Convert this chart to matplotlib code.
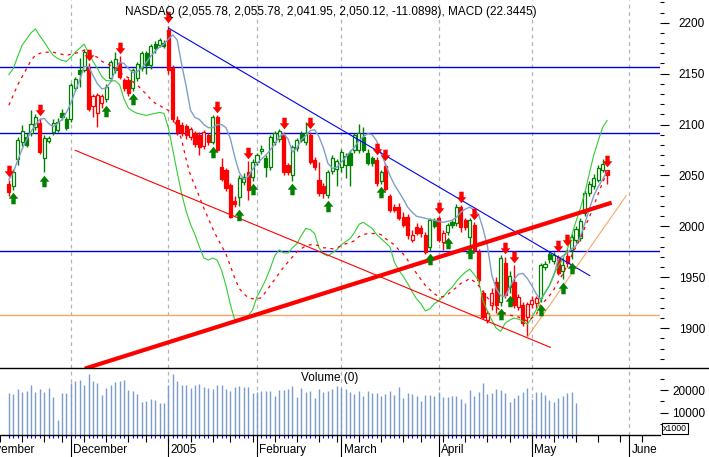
import numpy as np
import pandas as pd
import matplotlib
matplotlib.use("Agg")
import matplotlib.pyplot as plt
import matplotlib.transforms as mtransforms
from matplotlib.patches import Rectangle
from matplotlib.path import Path
from matplotlib.lines import Line2D

plt.rcParams['font.family'] = ['Liberation Sans', 'DejaVu Sans']

# trading calendar (NASDAQ holidays), first bar is 2004-11-10
holidays = ['2004-11-25', '2004-12-24', '2005-01-17', '2005-02-21', '2005-03-25']
days = pd.bdate_range('2004-11-01', '2005-06-30', freq='C', holidays=holidays)
first_day = '2004-11-10'

# daily bars, Nov 10 2004 .. May 25 2005
opens = [2042, 2040, 2066, 2083, 2088, 2092, 2098, 2102, 2067, 2084, 2093, 2095, 2111, 2105,
         2105, 2136, 2154, 2154, 2156, 2118, 2111, 2121, 2125, 2146, 2154, 2160, 2144, 2144, 2136, 2146, 2156, 2170, 2158, 2179, 2178, 2180,
         2193, 2156, 2104, 2100, 2099, 2088, 2092, 2090, 2079, 2090, 2083, 2107, 2058, 2055, 2041, 2025, 2029, 2044, 2053, 2049,
         2063, 2074, 2067, 2058, 2083, 2086, 2090, 2060, 2050, 2077, 2091, 2083, 2090, 2065, 2046, 2040, 2031, 2054, 2056,
         2058, 2060, 2072, 2075, 2075, 2088, 2072, 2067, 2065, 2045, 2059, 2030, 2019, 2019, 2009, 2009, 1987, 1999, 1998, 1992, 1980, 2006,
         2008, 1985, 1995, 2004, 2003, 2019, 2006, 1990, 2001, 1975, 1935, 1908, 1923, 1945, 1926, 1964, 1941, 1945, 1921, 1923, 1911,
         1924, 1925, 1930, 1960, 1973, 1966, 1970, 1956, 1971, 1977, 1987, 1989, 2013, 2033, 2040, 2046, 2055, 2055.78]
highs = [2046, 2056, 2088, 2100, 2092, 2114, 2110, 2106, 2090, 2089, 2105, 2106, 2115, 2107,
         2141, 2147, 2165, 2174, 2160, 2130, 2131, 2130, 2140, 2163, 2171, 2167, 2146, 2146, 2156, 2161, 2172, 2172, 2179, 2182, 2185, 2183,
         2197, 2158, 2108, 2103, 2101, 2098, 2094, 2093, 2095, 2092, 2109, 2109, 2067, 2057, 2043, 2030, 2050, 2052, 2064, 2066,
         2072, 2080, 2070, 2090, 2094, 2096, 2093, 2062, 2080, 2087, 2094, 2103, 2093, 2068, 2063, 2043, 2055, 2070, 2066,
         2076, 2072, 2075, 2092, 2101, 2098, 2076, 2069, 2068, 2055, 2062, 2032, 2022, 2023, 2014, 2012, 1996, 2003, 2001, 1995, 2008, 2008,
         2010, 1996, 2003, 2006, 2022, 2021, 2008, 2008, 2004, 1978, 1938, 1918, 1940, 1950, 1972, 1970, 1956, 1962, 1934, 1926, 1926,
         1932, 1932, 1964, 1966, 1976, 1975, 1972, 1970, 1978, 1993, 2000, 2008, 2036, 2045, 2051, 2060, 2066, 2055.78]
lows = [2030, 2036, 2060, 2079, 2078, 2089, 2095, 2071, 2053, 2082, 2090, 2093, 2104, 2095,
        2103, 2133, 2137, 2152, 2113, 2107, 2098, 2116, 2122, 2143, 2151, 2145, 2133, 2128, 2133, 2143, 2153, 2150, 2155, 2170, 2176, 2175,
        2150, 2103, 2090, 2089, 2086, 2085, 2078, 2070, 2076, 2080, 2081, 2073, 2045, 2035, 2008, 2019, 2020, 2041, 2026, 2045,
        2060, 2071, 2049, 2055, 2080, 2083, 2050, 2050, 2045, 2074, 2083, 2080, 2061, 2055, 2030, 2028, 2028, 2051, 2040,
        2053, 2048, 2040, 2072, 2072, 2073, 2060, 2059, 2040, 2042, 2035, 2014, 2014, 2006, 1999, 1988, 1985, 1992, 1990, 1973, 1976, 1998,
        1985, 1977, 1992, 1998, 2000, 1995, 1996, 1982, 1975, 1944, 1909, 1905, 1918, 1915, 1922, 1930, 1935, 1920, 1918, 1902, 1891,
        1920, 1920, 1926, 1957, 1964, 1963, 1952, 1948, 1960, 1968, 1984, 1986, 2010, 2030, 2037, 2044, 2053, 2041.95]
closes = [2034, 2053, 2085, 2094, 2080, 2101, 2107, 2073, 2087, 2087, 2102, 2103, 2107, 2097,
          2139, 2145, 2150, 2171, 2115, 2128, 2129, 2128, 2137, 2161, 2164, 2147, 2136, 2131, 2154, 2159, 2170, 2158, 2177, 2175, 2183, 2177,
          2154, 2105, 2093, 2092, 2090, 2096, 2081, 2078, 2093, 2083, 2107, 2075, 2047, 2038, 2009, 2022, 2048, 2049, 2036, 2063,
          2070, 2076, 2058, 2088, 2092, 2094, 2053, 2053, 2078, 2085, 2085, 2092, 2063, 2058, 2033, 2033, 2053, 2067, 2064,
          2073, 2069, 2060, 2090, 2092, 2075, 2062, 2062, 2043, 2053, 2037, 2016, 2016, 2008, 2001, 1992, 1992, 1994, 1994, 1975, 2006, 2000,
          1987, 1994, 2001, 2001, 2019, 1999, 1999, 2006, 1977, 1947, 1911, 1915, 1935, 1923, 1969, 1933, 1951, 1923, 1931, 1905, 1924,
          1928, 1930, 1962, 1963, 1968, 1972, 1954, 1962, 1964, 1990, 1997, 2005, 2033, 2042, 2048, 2057, 2061.21, 2050.12]

# volume (x1000 shares), Nov 10 2004 .. May 16 2005
volume = [18600, 18300, 20540, 19050, 19640, 22320, 19050, 20540, 19200, 20830, 16810, 6700, 18600, 18600,
          23360, 24100, 24550, 22320, 27230, 24100, 23060, 17860, 21130, 22320, 23510, 24100, 24550, 20090, 19640, 18300,
          14580, 15330, 15920, 15620, 14430, 14140,
          22320, 27230, 24250, 22320, 22320, 21130, 22320, 22620, 21280, 20830, 20540, 22320, 22320, 20540, 19790, 21580,
          21870, 21580, 21580, 18600,
          19340, 19640, 19640, 19640, 17560, 20090, 20090, 20540, 22020, 16810, 20830, 19340, 19640, 16670, 20540, 19050,
          19640, 20540, 21870,
          20830, 20540, 19050, 18300, 19640, 17560, 19640, 18900, 18600, 17560, 18300, 19640, 17860, 21580, 16670, 18900,
          18150, 17560, 15330, 17860, 17860, 17560,
          19050, 16810, 17110, 17560, 17560, 15920, 14140, 20090, 17560, 19340, 23360, 18300, 18600, 20540, 20090, 18600,
          14880, 16670, 17860, 19340, 21130,
          16070, 19340, 19340, 17860, 15620, 14880, 16670, 17560, 18600, 19340, 14430]

# short moving average (steel blue)
avg_line = [2046, 2053, 2065, 2076, 2085, 2093, 2100, 2105, 2106, 2101, 2098, 2101, 2105, 2112,
            2121, 2133, 2144, 2157, 2157, 2148, 2140, 2135, 2136, 2142, 2153, 2161, 2160, 2155, 2151, 2152, 2156, 2161, 2167, 2172, 2176, 2179,
            2184, 2188, 2183, 2159, 2138, 2114, 2107, 2105, 2100, 2097, 2097, 2100, 2100, 2097, 2086, 2068, 2053, 2046, 2049, 2056,
            2062, 2066, 2070, 2075, 2081, 2088, 2091, 2086, 2073, 2077, 2085, 2089, 2094, 2095, 2088, 2077, 2062, 2057, 2058,
            2063, 2068, 2073, 2078, 2084, 2088, 2091, 2090, 2084, 2072, 2061, 2050, 2041, 2034, 2027, 2019, 2014, 2010, 2009, 2008, 2007, 2006,
            2005, 2004, 2005, 2006, 2009, 2014, 2017, 2019, 2016, 2012, 1998, 1981, 1952, 1939, 1932, 1931, 1940, 1948, 1953, 1954, 1949,
            1942, 1934, 1928, 1935, 1942, 1952, 1968, 1971, 1974, 1978, 1981, 1990, 2003, 2017, 2030, 2039, 2046, 2054]

# MACD line (green) and its signal (red dashed), drawn on the price scale
macd_line = [2149, 2155, 2167, 2178, 2184, 2190, 2194, 2187, 2181, 2174, 2168, 2165, 2163, 2162,
             2166, 2171, 2175, 2179, 2170, 2162, 2155, 2147, 2143, 2143, 2143, 2139, 2125, 2116, 2113, 2111, 2110, 2109, 2110, 2111, 2112, 2111,
             2097, 2075, 2053, 2032, 2015, 2002, 1992, 1980, 1969, 1967, 1969, 1967, 1957, 1942, 1923, 1908, 1908, 1910, 1912, 1918,
             1931, 1939, 1948, 1959, 1971, 1977, 1974, 1974, 1979, 1983, 1991, 1998, 1997, 1993, 1979, 1973, 1971, 1974, 1977,
             1982, 1985, 1988, 1994, 2002, 2004, 2001, 1998, 1992, 1988, 1984, 1980, 1965, 1957, 1951, 1944, 1936, 1929, 1924, 1917, 1919, 1924,
             1927, 1931, 1936, 1940, 1946, 1951, 1955, 1958, 1953, 1947, 1927, 1917, 1908, 1900, 1897, 1905, 1908, 1910, 1909, 1907, 1904,
             1910, 1918, 1927, 1935, 1942, 1953, 1961, 1968, 1977, 1991, 2005, 2018, 2033, 2052, 2070, 2084, 2097, 2104]
signal_line = [2119, 2129, 2139, 2147, 2155, 2163, 2168, 2170, 2171, 2171, 2171, 2170, 2169, 2168,
               2169, 2170, 2171, 2173, 2171, 2168, 2166, 2162, 2160, 2158, 2156, 2152, 2148, 2146, 2142, 2139, 2134, 2130, 2125, 2121, 2119, 2116,
               2114, 2107, 2097, 2085, 2066, 2050, 2040, 2029, 2018, 2008, 1998, 1989, 1981, 1973, 1961, 1949, 1939, 1934, 1930, 1929,
               1929, 1930, 1936, 1942, 1948, 1954, 1960, 1965, 1970, 1975, 1978, 1981, 1982, 1982, 1981, 1979, 1979, 1978, 1979,
               1981, 1983, 1984, 1986, 1990, 1992, 1993, 1993, 1993, 1992, 1988, 1985, 1982, 1977, 1973, 1967, 1960, 1954, 1948, 1942, 1938, 1934,
               1931, 1931, 1933, 1937, 1940, 1944, 1946, 1949, 1946, 1942, 1936, 1930, 1925, 1921, 1917, 1915, 1913, 1912, 1911, 1909, 1907,
               1910, 1913, 1923, 1927, 1932, 1938, 1946, 1953, 1962, 1971, 1980, 1988, 1999, 2009, 2020, 2032, 2043, 2053]

# sell (red) and buy (green) signal bars, as bar numbers from the first bar
sell_bars = [0, 7, 18, 25, 36, 47, 54, 62, 68, 83, 85, 97, 102, 105, 112, 114, 124, 126, 135]
buy_bars = [1, 8, 22, 28, 46, 52, 55, 64, 72, 84, 95, 99, 104, 111, 113, 120, 125, 127]

# drawn lines: horizontal levels and trendlines (trading-day position, price)
blue_levels = [2156.5, 2091.7, 1975.6]
orange_level = 1912.7
down_trend = ([43.1, 138.1], [2194.5, 1951.7])
lower_channel = ([22.0, 129.2], [2074.7, 1881.3])
support_line = ([24.6, 142.6], [1861.0, 2022.7])
rally_line = ([124.1, 146.3], [1891.8, 2030.0])

title = "NASDAQ (2,055.78, 2,055.78, 2,041.95, 2,050.12, -11.0898), MACD (22.3445)"
month_names = {11: 'November', 12: 'December', 1: '2005', 2: 'February', 3: 'March', 4: 'April', 5: 'May', 6: 'June'}

GREEN = '#008000'
RED = '#ff0000'

start = days.get_loc(pd.Timestamp(first_day))
n = len(closes)
pos = start + np.arange(n)

# candle colour follows the last signal
state = None
colors = []
for k in range(n):
    if k in sell_bars:
        state = RED
    if k in buy_bars:
        state = GREEN
    colors.append(state)

fig = plt.figure(figsize=(7.09, 4.57), dpi=100)
ax = fig.add_axes([0, 89 / 457, 660 / 709, 368 / 457])
axv = fig.add_axes([0, 22 / 457, 660 / 709, 67 / 457], sharex=ax)

dec1 = days.get_loc(pd.Timestamp('2004-12-01'))
ax.set_xlim(dec1 - 65.7 / 4.47, dec1 + 594.3 / 4.47)
ax.set_ylim(1861.0, 2222.3)
axv.set_ylim(0, 29900)

# month starts and week starts
month_pos = [0] + [i for i in range(1, len(days)) if days[i].month != days[i - 1].month]
week_pos = [i for i in range(1, len(days)) if days[i].weekday() < days[i - 1].weekday()]

for m in month_pos[1:]:
    for a in (ax, axv):
        a.axvline(m, color='#b4b4b4', lw=0.9, ls=(0, (3, 3)), zorder=1)

for lvl in blue_levels:
    ax.axhline(lvl, color='#0000dd', lw=1.0, zorder=1.5)
ax.axhline(orange_level, color='#f5a86a', lw=1.0, zorder=1.5)

# candles
for k in range(n):
    x, o, h, l, c, col = pos[k], opens[k], highs[k], lows[k], closes[k], colors[k]
    ax.vlines(x, l, h, color=col, lw=1.0, zorder=2)
    face = 'white' if c >= o else col
    ax.add_patch(Rectangle((x - 0.35, min(o, c)), 0.7, max(abs(c - o), 0.8),
                           facecolor=face, edgecolor=col, lw=0.9, zorder=3))

ax.plot(pos, avg_line, color='#7f9fc8', lw=1.0, zorder=4)
ax.plot(pos, macd_line, color='#33cc33', lw=0.8, zorder=4)
ax.plot(pos, signal_line, color=RED, lw=0.9, ls=(0, (2.5, 3.5)), zorder=4)

ax.plot(*down_trend, color='#0000ee', lw=0.8, zorder=5)
ax.plot(*lower_channel, color=RED, lw=0.8, zorder=5)
ax.plot(*rally_line, color='#f5a86a', lw=0.8, zorder=5)
ax.plot(*support_line, color=RED, lw=3.0, zorder=5)

# signal arrows
down_arrow = Path([(-0.19, 0.5), (0.19, 0.5), (0.19, 0.02), (0.42, 0.02), (0.0, -0.5),
                   (-0.42, 0.02), (-0.19, 0.02), (-0.19, 0.5)], closed=True)
up_arrow = Path([(xv, -yv) for xv, yv in down_arrow.vertices], closed=True)
above = ax.transData + mtransforms.ScaledTranslation(0, 0.085, fig.dpi_scale_trans)
below = ax.transData + mtransforms.ScaledTranslation(0, -0.085, fig.dpi_scale_trans)
ax.plot(pos[sell_bars], np.array(highs)[sell_bars], ls='none', marker=down_arrow, ms=8.3,
        mfc=RED, mec=RED, mew=0, transform=above, zorder=6)
ax.plot(pos[buy_bars], np.array(lows)[buy_bars], ls='none', marker=up_arrow, ms=8.3,
        mfc=GREEN, mec=GREEN, mew=0, transform=below, zorder=6)

# price axis
for s in ax.spines.values():
    s.set_visible(False)
ax.yaxis.tick_right()
ax.set_yticks(range(1900, 2201, 50))
ax.set_yticks(np.arange(1870, 2221, 10), minor=True)
ax.tick_params(axis='y', which='major', length=6.5, width=0.8, pad=7, labelsize=8.5)
ax.tick_params(axis='y', which='minor', length=3, width=0.8)
ax.tick_params(axis='x', which='both', bottom=False, labelbottom=False)

# volume
vpos = pos[:len(volume)]
axv.vlines(vpos, 0, volume, color='#7b9ccc', lw=1.0, zorder=2)
for side in ('left', 'right', 'top'):
    axv.spines[side].set_visible(False)
axv.spines['bottom'].set_linewidth(1.0)
axv.yaxis.tick_right()
axv.set_yticks([10000, 20000])
axv.set_yticks([5000, 15000, 25000], minor=True)
axv.tick_params(axis='y', which='major', length=6, width=0.8, pad=3, labelsize=8.5)
axv.tick_params(axis='y', which='minor', length=3, width=0.8)
axv.set_xticks([w for w in week_pos if w < 154])
axv.set_xticks(list(vpos), minor=True)
axv.tick_params(axis='x', which='major', length=5, width=0.8, color='black', labelbottom=False)
axv.tick_params(axis='x', which='minor', length=2.2, width=0.8, color='#0000ff')

fig.add_artist(Line2D([0, 1], [89 / 457, 89 / 457], color='black', lw=1.0))

blend = mtransforms.blended_transform_factory(axv.transData, axv.transAxes)
text_shift = blend + mtransforms.ScaledTranslation(0.025, 0, fig.dpi_scale_trans)
for m in month_pos:
    axv.plot([m, m], [0, -0.33], color='black', lw=0.8, transform=blend, clip_on=False)
    axv.text(m, -0.22, month_names[days[m].month], transform=text_shift, ha='left', va='center',
             fontsize=8.5, clip_on=False)

fig.text(330.5 / 709, 1 - 12 / 457, title, ha='center', va='center', fontsize=8.5)
fig.text(330 / 709, 1 - 378 / 457, 'Volume (0)', ha='center', va='center', fontsize=8.5)
fig.text(663 / 709, 1 - 428.5 / 457, 'x1000', ha='left', va='center', fontsize=6.3,
         bbox=dict(boxstyle='square,pad=0.12', fc='white', ec='black', lw=0.8))

fig.savefig('out.png', dpi=100)
